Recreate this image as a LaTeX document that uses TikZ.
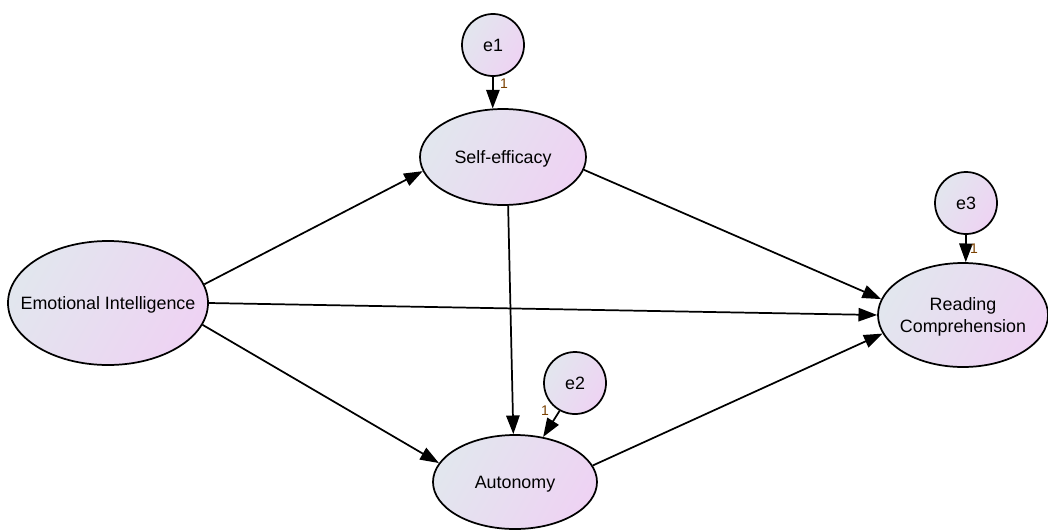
\documentclass[tikz,border=0pt]{standalone}
\usepackage{fontspec}
\setmainfont{Liberation Sans}
\usetikzlibrary{shapes.geometric,arrows.meta}
\definecolor{gA}{HTML}{E2E6EE}
\definecolor{gB}{HTML}{EED3F3}
\definecolor{onec}{HTML}{7A4000}
\tikzset{
  lat/.style={ellipse, draw=black, line width=1.3pt, inner sep=-20pt,
    shading=axis, left color=gA, right color=gB, shading angle=60,
    font=\fontsize{13.4}{16}\selectfont, align=center, text depth=0pt},
  err/.style={lat, minimum width=46.5pt, minimum height=46.5pt},
  path/.style={line width=1.3pt, -{Triangle[length=14pt,width=10pt]}},
  one/.style={text=onec, font=\fontsize{10.5}{12}\selectfont, inner sep=0pt}
}
\begin{document}
\begin{tikzpicture}[x=0.75pt,y=-0.75pt]
\useasboundingbox (0,0) rectangle (1048,529);
\node[lat, minimum width=150pt, minimum height=93pt] (ei) at (108,303) {Emotional Intelligence};
\node[lat, minimum width=124.5pt, minimum height=72pt] (se) at (503,157) {Self-efficacy};
\node[lat, minimum width=127.5pt, minimum height=78pt] (rc) at (963,315) {Reading\\Comprehension};
\node[lat, minimum width=123pt, minimum height=70.5pt] (au) at (515,482) {Autonomy};
\node[err] (e1) at (493,45) {e1};
\node[err] (e2) at (575,383) {e2};
\node[err] (e3) at (966,203) {e3};

\draw[path] (ei.11) -- (se.190);
\draw[path] (ei.0) -- (rc.180);
\draw[path] (ei.-13) -- (au.166);
\draw[path] (se.-9) -- (rc.169);
\draw[path] (se.-84) -- (au.92);
\draw[path] (au.12) -- (rc.193);
\draw[path] (e1.270) -- (se.102);
\draw[path] (e2.241) -- (au.58);
\draw[path] (e3.270) -- (rc.87);

\node[one] (o1) at (504,84) {1};
\node[one] (o2) at (545,411) {1};
\node[one] (o3) at (974,249) {1};
\end{tikzpicture}
\end{document}
